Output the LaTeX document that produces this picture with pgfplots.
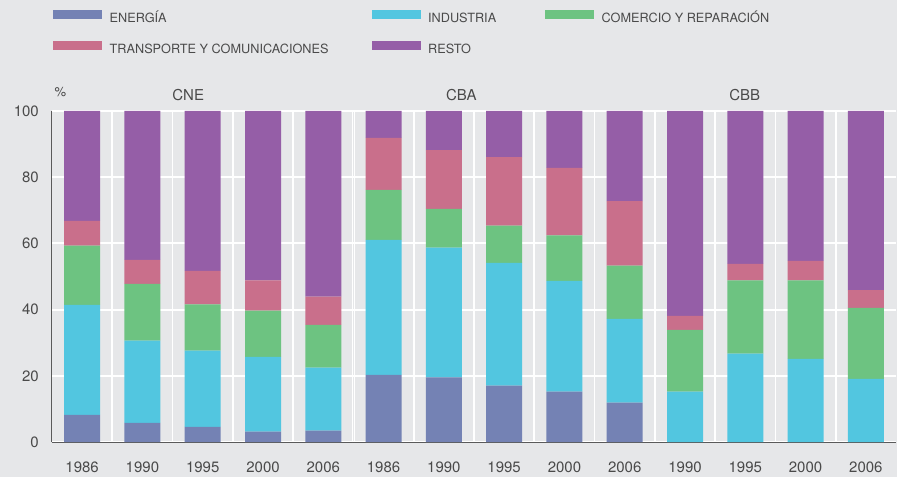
\documentclass[border=0pt]{standalone}
\usepackage{fontspec}
\setmainfont{TeX Gyre Heros}
\usepackage{pgfplots}
\pgfplotsset{compat=1.18}
\usepackage{pgfplotstable}

\definecolor{energia}{HTML}{7482B4}
\definecolor{industria}{HTML}{52C6E0}
\definecolor{comercio}{HTML}{6DC381}
\definecolor{transporte}{HTML}{C96F8B}
\definecolor{resto}{HTML}{955EA7}
\definecolor{bg}{HTML}{E6E7E9}
\definecolor{txt}{HTML}{4A4A4A}
\definecolor{axln}{HTML}{5A5A5A}

% shares in %, one row per bar (CNE 0-4, CBA 5-9, CBB 10-13)
\pgfplotstableread{
x  ene   ind   com   tra   res
0  8.2   33.2  17.9  7.5   33.2
1  5.8   24.8  17.2  7.2   45.0
2  4.6   23.0  14.0  10.1  48.3
3  3.1   22.6  14.0  9.1   51.2
4  3.4   19.1  12.9  8.5   56.1
5  20.3  40.8  15.1  15.7  8.1
6  19.5  39.2  11.7  17.8  11.8
7  17.0  37.1  11.3  20.7  13.9
8  15.2  33.5  13.7  20.4  17.2
9  11.9  25.3  16.1  19.5  27.2
10 0     15.2  18.7  4.2   61.9
11 0     26.7  22.1  5.0   46.2
12 0     25.1  23.7  5.9   45.3
13 0     19.1  21.4  5.4   54.1
}\datos

\pgfplotsset{
  sw/.style={fill=#1, draw=none,
    legend image code/.code={\fill[#1] (0pt,0pt) rectangle (49pt,9pt);}},
}

\begin{document}
\begin{tikzpicture}[font=\fontsize{15}{18}\selectfont, text=txt]
\fill[bg] (-52pt,-35pt) rectangle (845pt,442pt);
\begin{axis}[
    scale only axis,
    width=844pt, height=331pt,
    ybar stacked,
    bar width=36pt,
    xmin=-0.5, xmax=13.5,
    ymin=0, ymax=100,
    xtick={0,...,13},
    xticklabels={1986,1990,1995,2000,2006,1986,1990,1995,2000,2006,1990,1995,2000,2006},
    ytick={0,20,40,60,80,100},
    minor xtick={0.5,1.5,2.5,3.5,5.5,6.5,7.5,8.5,10.5,11.5,12.5},
    extra x ticks={4.485,4.515,9.485,9.515},
    extra x tick labels={},
    extra x tick style={grid=major, major grid style={white, line width=0.9pt}},
    ymajorgrids, xminorgrids,
    major grid style={white, line width=2pt},
    minor grid style={white, line width=1.8pt},
    major tick length=0pt, minor tick length=0pt,
    axis x line*=bottom, axis y line*=left,
    axis line style={-, draw=axln, line width=1pt},
    axis background/.style={fill=bg},
    /pgf/number format/assume math mode=true,
    yticklabel style={anchor=east, inner sep=0pt, xshift=-13pt, text=txt},
    xticklabel style={anchor=north, inner sep=0pt, yshift=-19.5pt, text=txt},
    clip=false,
    legend columns=3,
    legend cell align=left,
    legend style={draw=none, fill=none, inner sep=0pt,
      at={(0.00118,1.3052)}, anchor=north west,
      font=\fontsize{12.7}{14}\selectfont,
      /tikz/column sep=0pt, /tikz/row sep=16pt,
      /tikz/every odd column/.append style={column sep=7.5pt},
      nodes={inner sep=0pt, text height=9pt, text depth=3pt, text=txt}},
]
\addplot[sw=energia] table[x=x, y=ene] {\datos};
\addplot[sw=industria] table[x=x, y=ind] {\datos};
\addplot[sw=comercio] table[x=x, y=com] {\datos};
\addplot[sw=transporte] table[x=x, y=tra] {\datos};
\addplot[sw=resto] table[x=x, y=res] {\datos};
\addlegendentry{\makebox[262pt][l]{ENERGÍA}}
\addlegendentry{\makebox[117pt][l]{INDUSTRIA}}
\addlegendentry{COMERCIO Y REPARACIÓN}
\addlegendentry{\makebox[262pt][l]{TRANSPORTE Y COMUNICACIONES}}
\addlegendentry{\makebox[117pt][l]{RESTO}}

\node[text=txt] at (axis cs:1.76,104.8) {CNE};
\node[text=txt] at (axis cs:6.29,104.8) {CBA};
\node[text=txt] at (axis cs:10.99,104.8) {CBB};
\node[text=txt, font=\fontsize{13}{15}\selectfont] at (axis cs:-0.36,105.6) {\%};
\end{axis}
\end{tikzpicture}
\end{document}
